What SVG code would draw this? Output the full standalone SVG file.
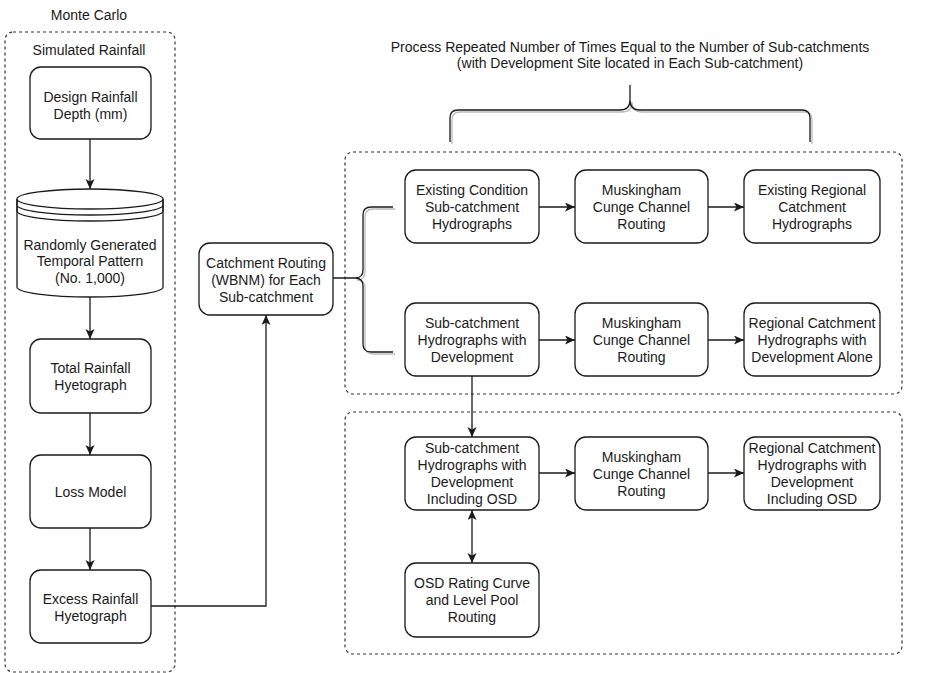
<svg xmlns="http://www.w3.org/2000/svg" width="927" height="673" viewBox="0 0 927 673">
<style>
text{font-family:"Liberation Sans",Arial,Helvetica,sans-serif;font-size:14px;fill:#1a1a1a;text-anchor:middle}
.box{fill:#fff;stroke:#1a1a1a;stroke-width:1.3}
.dash{fill:none;stroke:#333;stroke-width:1.2;stroke-dasharray:3 3}
.edge{fill:none;stroke:#1a1a1a;stroke-width:1.3}
.shadow{fill:none;stroke:#bbb;stroke-width:1.3}
</style>
<defs>
<marker id="ah" markerUnits="userSpaceOnUse" markerWidth="12" markerHeight="10" refX="10" refY="4.5" orient="auto-start-reverse" viewBox="0 0 12 10">
<path d="M0,0 L10,4.5 L0,9 L2.5,4.5 z" fill="#1a1a1a"/>
</marker>
</defs>

<g id="montecarlo">
<text x="89" y="20">Monte Carlo</text>
<rect class="dash" x="5" y="32" width="170" height="640" rx="8"/>
<text x="89" y="55">Simulated Rainfall</text>
</g>
<g id="repeat-group">
<text x="630" y="52">Process Repeated Number of Times Equal to the Number of Sub-catchments</text>
<text x="630" y="68">(with Development Site located in Each Sub-catchment)</text>
<rect class="dash" x="345" y="152" width="557" height="242" rx="8"/>
</g>
<g id="osd-group">
<rect class="dash" x="345" y="412" width="557" height="242" rx="8"/>
</g>

<g id="design-rainfall">
<rect class="box" x="30" y="67" width="121" height="72" rx="11"/>
<text x="90.5" y="102">Design Rainfall</text>
<text x="90.5" y="119">Depth (mm)</text>
</g>
<g id="temporal-pattern">
<path class="box" d="M17,199 A73,10 0 0 1 163,199 V287 A73,10 0 0 1 17,287 Z"/>
<path class="edge" d="M17,199 A73,10 0 0 0 163,199 M17,199 V205 A73,10 0 0 0 163,205 V199 M17,205 V211 A73,10 0 0 0 163,211 V205"/>
<text x="90" y="250">Randomly Generated</text>
<text x="90" y="266">Temporal Pattern</text>
<text x="90" y="283">(No. 1,000)</text>
</g>
<g id="total-rainfall">
<rect class="box" x="30" y="339" width="121" height="74" rx="11"/>
<text x="90.5" y="373">Total Rainfall</text>
<text x="90.5" y="390">Hyetograph</text>
</g>
<g id="loss-model">
<rect class="box" x="30" y="455" width="121" height="73" rx="11"/>
<text x="90.5" y="497">Loss Model</text>
</g>
<g id="excess-rainfall">
<rect class="box" x="30" y="570" width="121" height="73" rx="11"/>
<text x="90.5" y="604">Excess Rainfall</text>
<text x="90.5" y="621">Hyetograph</text>
</g>
<g id="catchment-routing">
<rect class="box" x="199" y="243" width="134" height="72" rx="11"/>
<text x="266" y="268">Catchment Routing</text>
<text x="266" y="285">(WBNM) for Each</text>
<text x="266" y="302">Sub-catchment</text>
</g>

<g id="existing-sub">
<rect class="box" x="405" y="170" width="134" height="73" rx="11"/>
<text x="472" y="195">Existing Condition</text>
<text x="472" y="212">Sub-catchment</text>
<text x="472" y="229">Hydrographs</text>
</g>
<g id="mc-1">
<rect class="box" x="575" y="170" width="133" height="73" rx="11"/>
<text x="641.5" y="195">Muskingham</text>
<text x="641.5" y="212">Cunge Channel</text>
<text x="641.5" y="229">Routing</text>
</g>
<g id="existing-regional">
<rect class="box" x="744" y="170" width="136" height="73" rx="11"/>
<text x="812" y="195">Existing Regional</text>
<text x="812" y="212">Catchment</text>
<text x="812" y="229">Hydrographs</text>
</g>

<g id="dev-sub">
<rect class="box" x="405" y="303" width="134" height="73" rx="11"/>
<text x="472" y="328">Sub-catchment</text>
<text x="472" y="345">Hydrographs with</text>
<text x="472" y="362">Development</text>
</g>
<g id="mc-2">
<rect class="box" x="575" y="303" width="133" height="73" rx="11"/>
<text x="641.5" y="328">Muskingham</text>
<text x="641.5" y="345">Cunge Channel</text>
<text x="641.5" y="362">Routing</text>
</g>
<g id="dev-regional">
<rect class="box" x="744" y="303" width="136" height="73" rx="11"/>
<text x="812" y="328">Regional Catchment</text>
<text x="812" y="345">Hydrographs with</text>
<text x="812" y="362">Development Alone</text>
</g>

<g id="osd-sub">
<rect class="box" x="405" y="437" width="134" height="73" rx="11"/>
<text x="472" y="453">Sub-catchment</text>
<text x="472" y="470">Hydrographs with</text>
<text x="472" y="487">Development</text>
<text x="472" y="504">Including OSD</text>
</g>
<g id="mc-3">
<rect class="box" x="575" y="437" width="133" height="73" rx="11"/>
<text x="641.5" y="462">Muskingham</text>
<text x="641.5" y="479">Cunge Channel</text>
<text x="641.5" y="496">Routing</text>
</g>
<g id="osd-regional">
<rect class="box" x="744" y="437" width="136" height="73" rx="11"/>
<text x="812" y="453">Regional Catchment</text>
<text x="812" y="470">Hydrographs with</text>
<text x="812" y="487">Development</text>
<text x="812" y="504">Including OSD</text>
</g>
<g id="osd-rating">
<rect class="box" x="405" y="563" width="134" height="74" rx="11"/>
<text x="472" y="588">OSD Rating Curve</text>
<text x="472" y="605">and Level Pool</text>
<text x="472" y="622">Routing</text>
</g>

<g id="connectors">
<path class="edge" marker-end="url(#ah)" d="M90,139 V189"/>
<path class="edge" marker-end="url(#ah)" d="M90,297 V339"/>
<path class="edge" marker-end="url(#ah)" d="M90,413 V455"/>
<path class="edge" marker-end="url(#ah)" d="M90,528 V570"/>
<path class="edge" marker-end="url(#ah)" d="M151,606 H266 V315"/>
<path class="shadow" d="M395,209 H373 Q365,209 365,217 V272 Q365,280 357,280 Q365,280 365,288 V346 Q365,354 373,354 H395"/>
<path class="edge" d="M333,278 H355 M393,207 H371 Q363,207 363,215 V270 Q363,278 355,278 Q363,278 363,286 V344 Q363,352 371,352 H393"/>
<path class="shadow" d="M452,144 V120 Q452,112 460,112 H622 Q632,112 632,102 Q632,112 642,112 H804 Q812,112 812,120 V144"/>
<path class="edge" d="M450,142 V118 Q450,110 458,110 H620 Q630,110 630,100 Q630,110 640,110 H802 Q810,110 810,118 V142 M630,100 V85"/>
<path class="edge" marker-end="url(#ah)" d="M539,207 H575"/>
<path class="edge" marker-end="url(#ah)" d="M708,207 H744"/>
<path class="edge" marker-end="url(#ah)" d="M539,340 H575"/>
<path class="edge" marker-end="url(#ah)" d="M708,340 H744"/>
<path class="edge" marker-end="url(#ah)" d="M539,473 H575"/>
<path class="edge" marker-end="url(#ah)" d="M708,473 H744"/>
<path class="edge" marker-end="url(#ah)" d="M472,376 V437"/>
<path class="edge" marker-start="url(#ah)" marker-end="url(#ah)" d="M472,510 V563"/>
</g>
</svg>
